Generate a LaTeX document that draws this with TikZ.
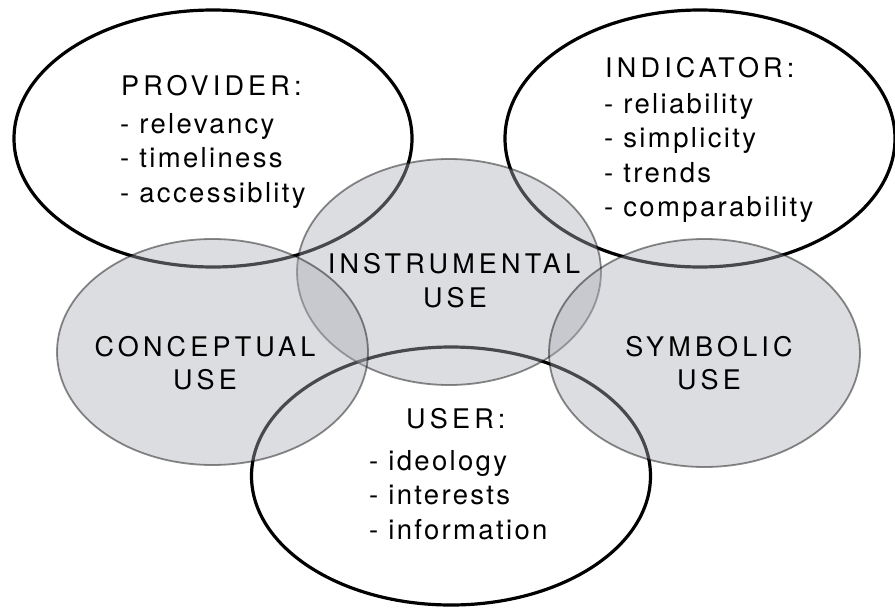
\documentclass[tikz,border=0pt]{standalone}
\usepackage{fontspec}
\setmainfont{TeX Gyre Heros}
\newfontfamily\headfont[LetterSpace=15.5]{TeX Gyre Heros}
\newfontfamily\itemfont[LetterSpace=8.5]{TeX Gyre Heros}
\usetikzlibrary{shapes.geometric}
\definecolor{usefill}{RGB}{172,174,182}

\begin{document}
\begin{tikzpicture}[x={(1pt,0pt)}, y={(0pt,-1pt)},
  actor/.style={ellipse, draw=black, line width=3.2pt, inner sep=0pt},
  usage/.style={ellipse, draw=black, draw opacity=0.45, line width=1.8pt,
    fill=usefill, fill opacity=0.42, inner sep=0pt},
  head/.style={font=\headfont\fontsize{27}{34}\selectfont, inner sep=0pt},
  item/.style={font=\itemfont\fontsize{27.5}{34}\selectfont, inner sep=0pt, anchor=base west},
]
% canvas
\fill[white] (0,0) rectangle (895,608);
\useasboundingbox (0,0) rectangle (895,608);

% the three actors: outlined ellipses
\node[actor, minimum width=398, minimum height=257] (prov) at (213,138.5) {};
\node[actor, minimum width=390, minimum height=257] (ind)  at (700,138.5) {};
\node[actor, minimum width=399, minimum height=258] (user) at (451,476) {};

% the three kinds of use: translucent grey ellipses laid over the actors
\node[usage, minimum width=304, minimum height=226] (instr) at (449,272) {};
\node[usage, minimum width=311, minimum height=226] (conc)  at (212.5,352) {};
\node[usage, minimum width=311, minimum height=228] (symb)  at (704.5,353) {};

% provider
\node[head, anchor=base west] (provh) at (121,95) {PROVIDER:};
\node[item] (prov1) at (120,133) {- relevancy};
\node[item] (prov2) at (120,167) {- timeliness};
\node[item] (prov3) at (120,202) {- accessiblity};

% indicator
\node[head, anchor=base west] (indh) at (605,77) {INDICATOR:};
\node[item] (ind1) at (604,113) {- reliability};
\node[item] (ind2) at (604,147.5) {- simplicity};
\node[item] (ind3) at (604,182) {- trends};
\node[item] (ind4) at (604,216) {- comparability};

% user
\node[head, anchor=base west] (userh) at (406,428) {USER:};
\node[item] (user1) at (369,470) {- ideology};
\node[item] (user2) at (369,504) {- interests};
\node[item] (user3) at (369,539) {- information};

% kinds of use
\node[head, anchor=base] (instr1) at (454,273) {INSTRUMENTAL};
\node[head, anchor=base] (instr2) at (455,307) {USE};
\node[head, anchor=base] (conc1)  at (205,356) {CONCEPTUAL};
\node[head, anchor=base] (conc2)  at (205,389) {USE};
\node[head, anchor=base] (symb1)  at (709,356) {SYMBOLIC};
\node[head, anchor=base] (symb2)  at (709,389) {USE};
\end{tikzpicture}
\end{document}
